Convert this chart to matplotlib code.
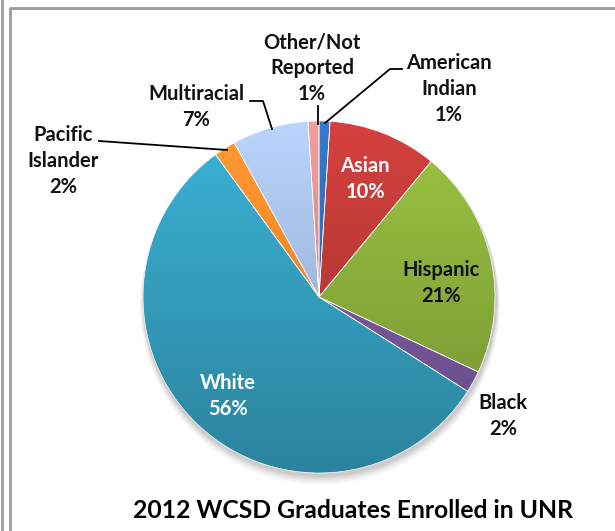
import numpy as np
import matplotlib.pyplot as plt
from matplotlib.colors import to_rgb
from matplotlib.lines import Line2D

plt.rcParams['font.family'] = ['Lato', 'DejaVu Sans']

groups = ['American\nIndian', 'Asian', 'Hispanic', 'Black', 'White',
          'Pacific\nIslander', 'Multiracial', 'Other/Not\nReported']
shares = [1, 10, 21, 2, 56, 2, 7, 1]
colors = ['#2F6DB8', '#BE3A37', '#8CB03C', '#7A5AA0', '#35A0C0',
          '#F08A2B', '#A6BEE3', '#D98E8D']
title = '2012 WCSD Graduates Enrolled in UNR'

W, H = 615, 531
fig = plt.figure(figsize=(W / 100, H / 100), dpi=100)
ax = fig.add_axes([0, 0, 1, 1])


def py(y):
    return H - y


# frame lines around the chart area
fig.add_artist(Line2D([2 / W, 2 / W], [0, 1], color='#9A9A9A', lw=2))
fig.add_artist(Line2D([10 / W, 10 / W, 1], [0, py(8) / H, py(8) / H],
                      color='#9A9A9A', lw=2))

cx, cy, r = 319, py(297), 176

# soft shadow below the pie
for k, a in zip(range(6), np.linspace(0.05, 0.02, 6)):
    ax.add_patch(plt.Circle((cx + 1, cy - 3 - k), r + 1 + k * 0.6,
                            color='black', alpha=a, lw=0, zorder=0))

wedges, _ = ax.pie(shares, colors=colors, startangle=90, counterclock=False,
                   center=(cx, cy), radius=r, frame=True,
                   wedgeprops=dict(edgecolor='white', linewidth=0.5))

# vertical shading inside each wedge: lighter at the top, darker at the bottom
yy = np.linspace(1.12, 0.82, 200)[:, None]
for w, c in zip(wedges, colors):
    base = np.array(to_rgb(c))
    img = np.clip(yy[..., None] * base[None, None, :], 0, 1)
    img = np.repeat(img, 2, axis=1)
    im = ax.imshow(img, extent=(cx - r, cx + r, cy - r, cy + r),
                   aspect='auto', zorder=1.5, interpolation='bilinear')
    im.set_clip_path(w)
    w.set_facecolor('none')
    w.set_zorder(2)

ax.set_xlim(0, W)
ax.set_ylim(0, H)
ax.set_aspect('equal')
ax.axis('off')

lab = dict(ha='center', va='center', fontsize=14.5, fontweight='bold',
           linespacing=1.35)

# label positions (pixel coords from the top-left) and text colour
label_pos = {
    0: (449, 89, '#111111'),
    1: (365, 179, 'white'),
    2: (441, 283, '#111111'),
    3: (503, 416, '#111111'),
    4: (228, 396, 'white'),
    5: (63, 161, '#111111'),
    6: (196, 107, '#111111'),
    7: (312, 68, '#111111'),
}
leaders = {
    0: [(402, 69), (390, 69), (325, 123)],
    5: [(99, 141), (227, 150)],
    6: [(250, 101), (263, 101), (272, 129)],
    7: [(318, 106), (318, 124)],
}
for i, (tx, ty, tc) in label_pos.items():
    ax.text(tx, py(ty), f'{groups[i]}\n{shares[i]}%', color=tc, **lab)
for i, pts in leaders.items():
    xs, ys = zip(*pts)
    ax.plot(xs, [py(v) for v in ys], color='black', lw=1.3, zorder=3)

ax.text(353, py(511), title, ha='center', va='center', fontsize=17.8,
        fontweight='bold', color='black')

fig.savefig('out.png', dpi=100)
